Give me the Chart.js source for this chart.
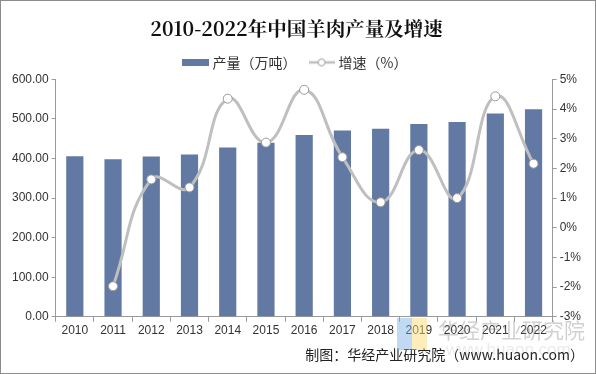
<!DOCTYPE html>
<html>
<head>
<meta charset="utf-8">
<script src="https://cdn.jsdelivr.net/npm/chart.js@4.4.0/dist/chart.umd.min.js"></script>
<style>
  body { margin: 0; background: #fff; }
  #wrap { width: 596px; height: 374px; box-sizing: border-box; border: 1px solid #8c8c8c; }
  canvas { display: block; }
</style>
</head>
<body>
<div id="wrap"><canvas id="chart" width="594" height="372"></canvas></div>
<script>
// data
const years = ['2010', '2011', '2012', '2013', '2014', '2015', '2016', '2017', '2018', '2019', '2020', '2021', '2022'];
const output = [406.0, 398.0, 405.0, 410.0, 428.2, 439.9, 459.4, 471.1, 475.1, 487.5, 492.3, 514.1, 524.5];
const growth = [null, -1.97, 1.63, 1.36, 4.35, 2.87, 4.65, 2.38, 0.86, 2.62, 1.00, 4.43, 2.16];

const barColor = '#627aa3';
const lineColor = '#bfbfbf';
const axisColor = '#9a9a9a';
const textColor = '#333333';

// legend swatches
function barSwatch() {
    const c = document.createElement('canvas');
    c.width = 27; c.height = 7;
    const ctx = c.getContext('2d');
    ctx.fillStyle = barColor;
    ctx.fillRect(0, 0, 27, 7);
    return c;
}
function lineSwatch() {
    const c = document.createElement('canvas');
    c.width = 26; c.height = 10;
    const ctx = c.getContext('2d');
    ctx.strokeStyle = lineColor;
    ctx.lineWidth = 2.5;
    ctx.beginPath(); ctx.moveTo(0, 5); ctx.lineTo(26, 5); ctx.stroke();
    ctx.fillStyle = '#fff';
    ctx.lineWidth = 1;
    ctx.strokeStyle = '#9a9a9a';
    ctx.beginPath(); ctx.arc(13, 5, 3.5, 0, Math.PI * 2); ctx.fill(); ctx.stroke();
    return c;
}

// faint watermark
const watermark = {
    id: 'watermark',
    afterDraw(chart) {
        const ctx = chart.ctx;
        ctx.save();
        ctx.fillStyle = 'rgba(120,170,230,0.45)';
        ctx.fillRect(396, 317, 15, 32);
        ctx.fillStyle = 'rgba(250,220,120,0.5)';
        ctx.fillRect(411, 317, 15, 32);
        ctx.textBaseline = 'middle';
        ctx.font = '21px "Noto Sans CJK SC"';
        ctx.fillStyle = 'rgba(140,140,140,0.4)';
        ctx.fillText('华经产业研究院', 437, 329);
        ctx.font = '17px "Liberation Sans"';
        ctx.fillStyle = 'rgba(140,140,140,0.18)';
        ctx.fillText('www.huaon.com', 445, 349);
        ctx.restore();
    }
};

const ctx = document.getElementById('chart').getContext('2d');
new Chart(ctx, {
    data: {
        labels: years,
        datasets: [{
            type: 'bar',
            label: '产量（万吨）',
            data: output,
            backgroundColor: barColor,
            barPercentage: 0.45,
            categoryPercentage: 1,
            yAxisID: 'y',
            order: 2
        }, {
            type: 'line',
            label: '增速（%）',
            data: growth,
            borderColor: lineColor,
            borderWidth: 3,
            tension: 0.45,
            pointRadius: 4.5,
            pointBackgroundColor: '#ffffff',
            pointBorderColor: '#9a9a9a',
            pointBorderWidth: 1,
            yAxisID: 'y1',
            order: 1
        }]
    },
    options: {
        responsive: false,
        animation: false,
        layout: { padding: { left: 8, right: 11, top: 4, bottom: 8 } },
        plugins: {
            title: {
                display: true,
                text: '2010-2022年中国羊肉产量及增速',
                color: '#111',
                font: { family: '"Noto Serif CJK SC", "Noto Sans CJK SC"', size: 19.5, weight: 'bold' },
                padding: { top: 12, bottom: 0 }
            },
            legend: {
                display: true,
                labels: {
                    usePointStyle: true,
                    pointStyleWidth: 20,
                    color: textColor,
                    font: { family: '"Noto Sans CJK SC"', size: 14 },
                    padding: 15,
                    generateLabels(chart) {
                        return chart.data.datasets.map((ds, i) => ({
                            text: ds.label,
                            pointStyle: i === 0 ? barSwatch() : lineSwatch(),
                            fontColor: textColor,
                            hidden: false,
                            datasetIndex: i
                        }));
                    }
                }
            },
            subtitle: {
                display: true,
                position: 'bottom',
                align: 'end',
                text: '制图：华经产业研究院（www.huaon.com）',
                color: '#222',
                font: { family: '"Noto Sans CJK SC"', size: 14 },
                padding: { top: 6, bottom: 2 }
            },
            tooltip: { enabled: false }
        },
        scales: {
            x: {
                grid: { display: true, drawOnChartArea: false, drawTicks: true, tickLength: 5, color: axisColor, offset: true },
                border: { display: true, color: axisColor },
                ticks: { color: textColor, font: { family: '"Liberation Sans", Arial', size: 12 }, padding: 2, maxRotation: 0 }
            },
            y: {
                position: 'left',
                min: 0,
                max: 600,
                grid: { display: true, drawOnChartArea: false, drawTicks: true, tickLength: 4, color: axisColor },
                border: { display: true, color: axisColor },
                ticks: {
                    stepSize: 100,
                    color: textColor,
                    font: { family: '"Liberation Sans", Arial', size: 12 },
                    padding: 3,
                    callback: v => v.toFixed(2)
                }
            },
            y1: {
                position: 'right',
                min: -3,
                max: 5,
                grid: { display: true, drawOnChartArea: false, drawTicks: true, tickLength: 4, color: axisColor },
                border: { display: true, color: axisColor },
                ticks: {
                    stepSize: 1,
                    color: textColor,
                    font: { family: '"Liberation Sans", Arial', size: 12 },
                    padding: 3,
                    callback: v => v + '%'
                }
            }
        }
    },
    plugins: [watermark]
});
</script>
</body>
</html>
